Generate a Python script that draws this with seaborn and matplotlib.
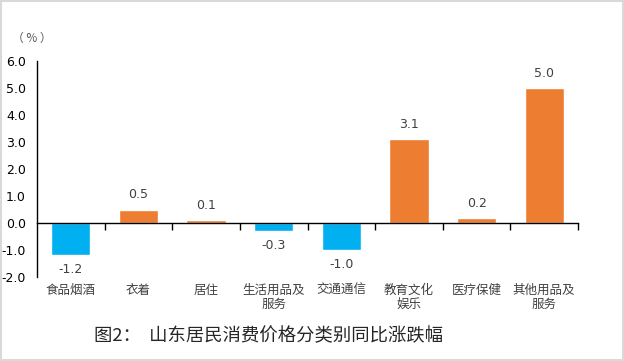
import matplotlib
matplotlib.use("Agg")
import matplotlib.pyplot as plt
import seaborn as sns
import pandas as pd
from matplotlib.patches import Rectangle
from matplotlib.ticker import FixedLocator, FormatStrFormatter

categories = ["食品烟酒", "衣着", "居住", "生活用品及\n服务", "交通通信", "教育文化\n娱乐", "医疗保健", "其他用品及\n服务"]
values = [-1.2, 0.5, 0.1, -0.3, -1.0, 3.1, 0.2, 5.0]
yticks = [-2.0, -1.0, 0.0, 1.0, 2.0, 3.0, 4.0, 5.0, 6.0]
title = "图2：  山东居民消费价格分类别同比涨跌幅"

BLUE = "#00B0F0"
ORANGE = "#ED7D31"

sns.set_theme(style="white")
plt.rcParams["font.family"] = ["DejaVu Sans", "Noto Sans CJK SC"]

df = pd.DataFrame({"cat": categories, "val": values})
colors = [ORANGE if v >= 0 else BLUE for v in values]

fig = plt.figure(figsize=(6.24, 3.61), dpi=100)
ax = fig.add_axes([37/624, 1-277/361, (578-37)/624, 216/361])

sns.barplot(data=df, x="cat", y="val", hue="cat", palette=colors, legend=False,
            width=0.58, ax=ax, saturation=1)

ax.set_ylim(-2.0, 6.0)
ax.set_xlim(-0.5, len(categories)-0.5)
ax.set_yticks(yticks)
ax.yaxis.set_major_formatter(FormatStrFormatter("%.1f"))
ax.tick_params(axis="y", length=0, pad=8, labelsize=9, labelcolor="black")

for s in ["top", "right"]:
    ax.spines[s].set_visible(False)
ax.spines["left"].set_color("black")
ax.spines["left"].set_linewidth(1.0)
ax.spines["bottom"].set_position(("data", 0))
ax.spines["bottom"].set_color("black")
ax.spines["bottom"].set_linewidth(1.0)

ax.xaxis.set_minor_locator(FixedLocator([i + 0.5 for i in range(len(categories))]))
ax.tick_params(axis="x", which="minor", length=5, width=1, color="black", direction="out", bottom=True)
ax.tick_params(axis="x", which="major", length=0, pad=44, labelsize=9, labelcolor="#404040")
for lab in ax.get_xticklabels():
    lab.set_family(["Noto Sans CJK SC"])
    lab.set_linespacing(1.1)
    lab.set_verticalalignment("top")
ax.set_xlabel("")
ax.set_ylabel("")

for i, v in enumerate(values):
    off = 10.5 if v >= 0 else -10.5
    ax.annotate(f"{v:.1f}", xy=(i, v), xytext=(0, off), textcoords="offset points",
                ha="center", va="center", fontsize=9, color="#404040")

fig.text(12/624, 1-38/361, "（ % ）", fontsize=8.5, color="#595959", va="center", ha="left",
         family=["Noto Sans CJK SC", "DejaVu Sans"])
fig.text(94/624, 1-336/361, title, fontsize=13.2, color="#262626", va="center", ha="left",
         family=["Noto Sans CJK SC", "DejaVu Sans"])

fig.patches.append(Rectangle((0.001, 0.002), 0.997, 0.995, transform=fig.transFigure,
                             fill=False, edgecolor="#D9D9D9", linewidth=1.5))

fig.savefig("out.png", dpi=100)
